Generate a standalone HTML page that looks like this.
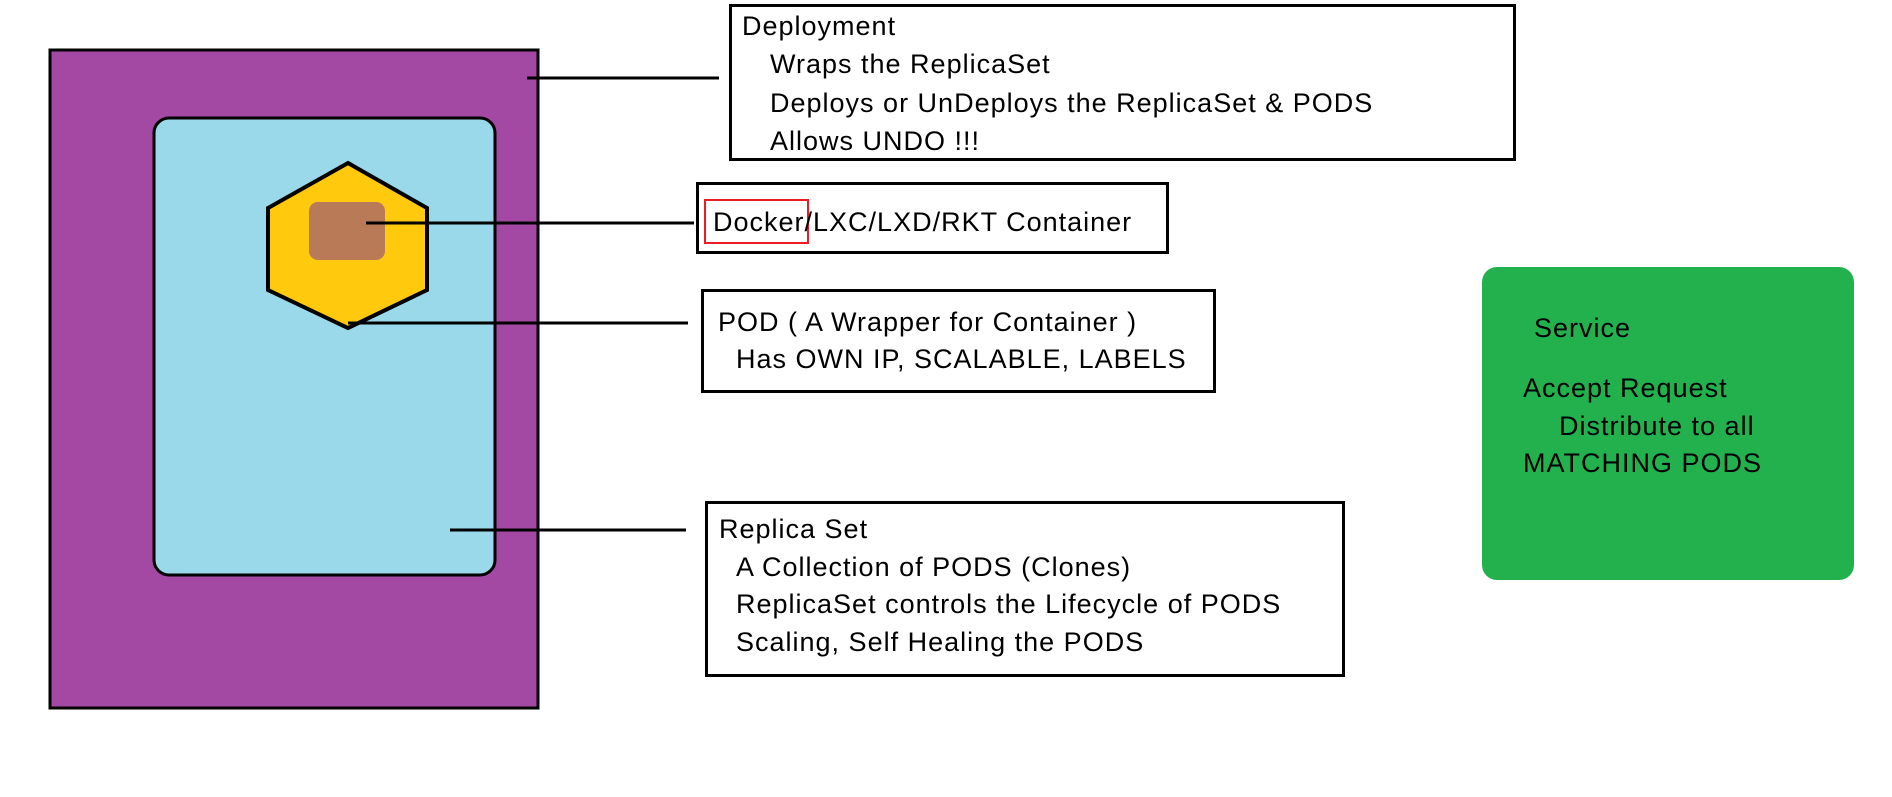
<!DOCTYPE html>
<html><head><meta charset="utf-8"><style>
body{margin:0;width:1892px;height:797px;background:#fff;position:relative;overflow:hidden;font-family:"Liberation Sans",sans-serif;font-size:27px;letter-spacing:1px;color:#000}
.b{position:absolute;box-sizing:border-box;border:3px solid #000;background:#fff}
.t{position:absolute;white-space:nowrap;line-height:30px;height:30px}
</style></head><body>
<svg width="1892" height="797" style="position:absolute;left:0;top:0">
<g transform="translate(-1,-1)">
<rect x="51" y="51" width="488" height="658" fill="#A349A4" stroke="#000" stroke-width="3"/>
<rect x="155" y="119" width="341" height="457" rx="15" fill="#99D9EA" stroke="#000" stroke-width="3"/>
<polygon points="349,164 428,209 428,291 349,329 269,291 269,209" fill="#FFC90E" stroke="#000" stroke-width="4"/>
<rect x="310" y="203" width="76" height="58" rx="9" fill="#B97A57"/>
<g stroke="#000" stroke-width="3">
<line x1="528" y1="79" x2="720" y2="79"/>
<line x1="367" y1="224" x2="695" y2="224"/>
<line x1="349" y1="324" x2="689" y2="324"/>
<line x1="451" y1="531" x2="687" y2="531"/>
</g>
<rect x="1483" y="268" width="372" height="313" rx="15" fill="#22B14C"/>
</g>
</svg>
<div class="b" style="left:729px;top:4px;width:787px;height:157px"></div>
<div class="t" style="left:742px;top:11px">Deployment</div>
<div class="t" style="left:770px;top:49px">Wraps the ReplicaSet</div>
<div class="t" style="left:770px;top:88px">Deploys or UnDeploys the ReplicaSet &amp; PODS</div>
<div class="t" style="left:770px;top:126px">Allows UNDO !!!</div>
<div class="b" style="left:696px;top:182px;width:473px;height:72px"></div>
<div style="position:absolute;left:704px;top:199px;width:105px;height:45px;box-sizing:border-box;border:2px solid #ED1C24"></div>
<div class="t" style="left:713px;top:207px">Docker/LXC/LXD/RKT Container</div>
<div class="b" style="left:701px;top:289px;width:515px;height:104px"></div>
<div class="t" style="left:718px;top:307px">POD ( A Wrapper for Container )</div>
<div class="t" style="left:736px;top:344px">Has OWN IP, SCALABLE, LABELS</div>
<div class="b" style="left:705px;top:501px;width:640px;height:176px"></div>
<div class="t" style="left:719px;top:514px">Replica Set</div>
<div class="t" style="left:736px;top:552px">A Collection of PODS (Clones)</div>
<div class="t" style="left:736px;top:589px">ReplicaSet controls the Lifecycle of PODS</div>
<div class="t" style="left:736px;top:627px">Scaling, Self Healing the PODS</div>
<div class="t" style="left:1534px;top:313px">Service</div>
<div class="t" style="left:1523px;top:373px">Accept Request</div>
<div class="t" style="left:1559px;top:411px">Distribute to all</div>
<div class="t" style="left:1523px;top:448px">MATCHING PODS</div>
</body></html>
